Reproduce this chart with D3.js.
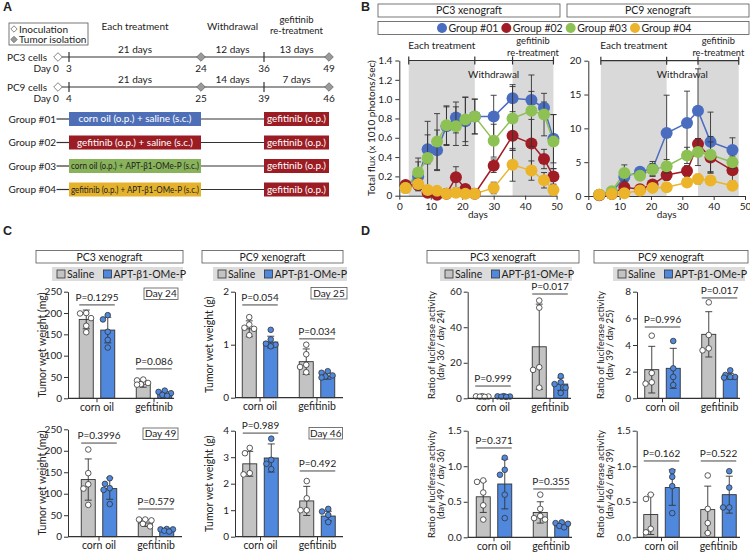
<!DOCTYPE html>
<html><head><meta charset="utf-8">
<script src="https://cdn.jsdelivr.net/npm/d3@7"></script>
<style>body{margin:0;background:#fff} svg{font-family:Lato,'Open Sans',sans-serif}</style>
</head><body><svg id="chart" width="750" height="552"></svg>
<script>
// ================= DATA =================
// Panel A (schedule)
const timelineCells = ["PC3 cells", "PC9 cells"];
const pc3StageDays = [0, 3, 24, 36, 49];
const pc9StageDays = [0, 4, 25, 39, 46];
const pc3Durations = ["21 days", "12 days", "13 days"];
const pc9Durations = ["21 days", "14 days", "7 days"];
const phaseNames = ["Each treatment", "Withdrawal", "gefitinib", "re-treatment"];
const legendA = ["Inoculation", "Tumor isolation"];
const groupNames = ["Group #01", "Group #02", "Group #03", "Group #04"];
const groupTreatments = ["corn oil (o.p.) + saline (s.c.)", "gefitinib (o.p.) + saline (s.c.)",
  "corn oil (o.p.) + APT-β1-OMe-P (s.c.)", "gefitinib (o.p.) + APT-β1-OMe-P (s.c.)"];
const retreatment = "gefitinib (o.p.)";

// Panel B (luciferase flux)
const xenografts = ["PC3 xenograft", "PC9 xenograft"];
const dayTicks = [0, 10, 20, 30, 40, 50];
const pc3Days = [2, 6, 9, 12, 15, 18, 21, 24, 30, 36, 42, 46, 49];
const pc3G1 = [0.10, 0.20, 0.48, 0.47, 0.72, 0.81, 0.77, 0.82, 0.82, 1.01, 0.99, 0.91, 0.59];
const pc3G1Err = [0.05, 0.15, 0.15, 0.21, 0.20, 0.16, 0.25, 0.18, 0.22, 0.14, 0.09, 0.06, 0.25];
const pc3G2 = [0.11, 0.11, 0.03, 0.01, 0.02, 0.19, 0.07, 0.02, 0.31, 0.62, 0.54, 0.38, 0.20];
const pc3G2Err = [0.03, 0.03, 0.02, 0.02, 0.02, 0.11, 0.03, 0.02, 0.07, 0.15, 0.25, 0.10, 0.08];
const pc3G3 = [0.08, 0.24, 0.39, 0.56, 0.73, 0.72, 0.79, 0.82, 0.57, 0.80, 0.88, 0.84, 0.56];
const pc3G3Err = [0.05, 0.15, 0.38, 0.29, 0.20, 0.20, 0.23, 0.18, 0.17, 0.33, 0.37, 0.22, 0.28];
const pc3G4 = [0.08, 0.12, 0.06, 0.05, 0.02, 0.03, 0.02, 0.02, 0.08, 0.32, 0.26, 0.16, 0.06];
const pc3G4Err = [0.03, 0.06, 0.03, 0.02, 0.01, 0.01, 0.01, 0.01, 0.06, 0.17, 0.10, 0.08, 0.05];
const pc9Days = [3.5, 7.5, 11.5, 16.5, 20.5, 25, 31.5, 35, 39, 46];
const pc9G1 = [0.2, 0.5, 2.8, 3.6, 4.0, 9.3, 10.8, 12.6, 8.0, 6.8];
const pc9G1Err = [0.1, 0.3, 0.8, 0.6, 1.1, 5.6, 4.7, 6.2, 4.4, 1.8];
const pc9G2 = [0.1, 0.3, 1.3, 1.0, 1.7, 3.1, 3.7, 7.7, 5.7, 3.8];
const pc9G2Err = [0.05, 0.1, 0.5, 0.3, 0.5, 0.8, 0.8, 0.8, 2.3, 1.6];
const pc9G3 = [0.2, 0.7, 3.4, 3.0, 3.9, 4.4, 6.0, 6.5, 6.1, 5.0];
const pc9G3Err = [0.1, 0.3, 1.2, 0.5, 0.9, 1.0, 1.2, 2.0, 2.7, 0.9];
const pc9G4 = [0.2, 0.3, 0.4, 0.8, 1.2, 1.3, 2.0, 2.5, 2.3, 1.5];
const pc9G4Err = [0.1, 0.1, 0.1, 0.2, 0.3, 0.3, 0.5, 0.7, 0.6, 0.4];
const pc3Brackets = [3, 24, 36, 49];
const pc9Brackets = [4, 25, 35, 48];
const pc3FluxTicks = [0, 0.2, 0.4, 0.6, 0.8, 1.0, 1.2, 1.4];
const pc9FluxTicks = [0, 5, 10, 15, 20];
const fluxTitle = "Total flux (x 1010 photons/sec)";

// Panels C & D (bar + dot plots)
const categories = ["corn oil", "gefitinib"];
const arms = ["Saline", "APT-β1-OMe-P"];
// C: PC3 day 24 (mg)
const c1SalMean = [185, 33], c1AptMean = [160, 12], c1SalSD = [22, 7], c1AptSD = [30, 4];
const c1SalDots = [[200, 199, 188, 170, 155], [44, 42, 36, 33, 32]];
const c1AptDots = [[195, 185, 156, 137, 119], [18, 15, 12, 8, 6]];
const c1P = ["P=0.1295", "P=0.086"];
// C: PC9 day 25 (g)
const c2SalMean = [1.30, 0.68], c2AptMean = [1.05, 0.41], c2SalSD = [0.15, 0.24], c2AptSD = [0.11, 0.06];
const c2SalDots = [[1.52, 1.38, 1.32, 1.30, 1.18], [1.0, 0.82, 0.62, 0.58, 0.48]];
const c2AptDots = [[1.28, 1.10, 1.02, 1.0, 0.97], [0.50, 0.47, 0.42, 0.40, 0.38]];
const c2P = ["P=0.054", "P=0.034"];
// C: PC3 day 49 (mg)
const c3SalMean = [133, 32], c3AptMean = [112, 15], c3SalSD = [48, 8], c3AptSD = [25, 4];
const c3SalDots = [[203, 148, 122, 112, 74], [40, 40, 38, 30, 24]];
const c3AptDots = [[136, 123, 113, 109, 76], [18, 17, 17, 14, 12]];
const c3P = ["P=0.3996", "P=0.579"];
// C: PC9 day 46 (g)
const c4SalMean = [2.75, 1.35], c4AptMean = [2.97, 0.78], c4SalSD = [0.47, 0.55], c4AptSD = [0.53, 0.18];
const c4SalDots = [[3.35, 3.15, 2.40, 2.35], [2.1, 1.45, 1.0, 1.0]];
const c4AptDots = [[3.7, 2.9, 2.75, 2.55], [1.05, 0.95, 0.82, 0.55]];
const c4P = ["P=0.989", "P=0.492"];
// D: PC3 day36/day24
const d1SalMean = [1.0, 29], d1AptMean = [1.0, 8], d1SalSD = [0.3, 24], d1AptSD = [0.3, 3.5];
const d1SalDots = [[1.2, 1.1, 1.0, 0.9, 0.8], [55, 51, 17.5, 16, 6]];
const d1AptDots = [[1.2, 1.1, 1.0, 0.9, 0.8], [12.5, 9, 8, 6, 3]];
const d1P = ["P=0.999", "P=0.017"];
// D: PC9 day39/day25
const d2SalMean = [2.15, 4.8], d2AptMean = [2.25, 1.65], d2SalSD = [1.75, 1.7], d2AptSD = [1.5, 0.22];
const d2SalDots = [[4.7, 1.9, 1.2, 1.1], [7.2, 4.75, 3.75, 3.6]];
const d2AptDots = [[4.3, 2.25, 1.6, 1.0], [2.1, 1.75, 1.6, 1.6, 1.55]];
const d2P = ["P=0.996", "P=0.017"];
// D: PC3 day49/day36
const d3SalMean = [0.57, 0.35], d3AptMean = [0.75, 0.17], d3SalSD = [0.22, 0.15], d3AptSD = [0.35, 0.03];
const d3SalDots = [[0.80, 0.78, 0.63, 0.45, 0.25], [0.60, 0.40, 0.30, 0.27, 0.25]];
const d3AptDots = [[1.12, 0.95, 0.88, 0.60, 0.27], [0.21, 0.20, 0.19, 0.16, 0.14]];
const d3P = ["P=0.371", "P=0.355"];
// D: PC9 day46/day39
const d4SalMean = [0.32, 0.39], d4AptMean = [0.70, 0.60], d4SalSD = [0.28, 0.33], d4AptSD = [0.25, 0.26];
const d4SalDots = [[0.60, 0.54, 0.12, 0.07], [0.87, 0.40, 0.20, 0.06]];
const d4AptDots = [[0.93, 0.85, 0.72, 0.34], [0.93, 0.70, 0.42, 0.42]];
const d4P = ["P=0.162", "P=0.522"];
const dayLabelsC = ["Day 24", "Day 25", "Day 49", "Day 46"];
const ratioLabels = ["(day 36 / day 24)", "(day 39 / day 25)", "(day 49 / day 36)", "(day 46 / day 39)"];

// ================= DRAWING =================
const svg = d3.select('#chart');
const INK = '#222';
const boxColorsA = ['#4e6fb7', '#9b1c23', '#88b35a', '#e5b22d'];
const seriesColors = ['#4a6dbf', '#a01d26', '#8dc153', '#ebb42b'];
const barFill = ['#c3c3c3', '#4f88dd'];

function T(g, x, y, s, o = {}) {
  const t = g.append('text').attr('x', x).attr('y', y).text(s)
    .attr('font-size', o.size || 10).attr('text-anchor', o.anchor || 'start').attr('fill', o.fill || INK);
  if (o.weight) t.attr('font-weight', o.weight);
  if (o.family) t.attr('font-family', o.family);
  if (o.len) t.attr('textLength', o.len).attr('lengthAdjust', 'spacingAndGlyphs');
  if (o.rotate) t.attr('transform', `rotate(-90,${x},${y})`);
  return t;
}
function frame(g, x, y, w, h, fill = '#fff', stroke = '#555') {
  return g.append('rect').attr('x', x).attr('y', y).attr('width', w).attr('height', h)
    .attr('fill', fill).attr('stroke', stroke).attr('stroke-width', 0.8);
}
function L(g, x1, y1, x2, y2, w = 1, c = '#333') {
  return g.append('line').attr('x1', x1).attr('y1', y1).attr('x2', x2).attr('y2', y2)
    .attr('stroke', c).attr('stroke-width', w);
}
function diamond(g, cx, cy, r, fill) {
  g.append('path').attr('d', `M${cx},${cy - r}L${cx + r},${cy}L${cx},${cy + r}L${cx - r},${cy}Z`)
    .attr('fill', fill).attr('stroke', '#666').attr('stroke-width', 0.8);
}
function styleAxis(sel, fs = 10) {
  sel.attr('font-family', null).attr('font-size', fs);
  sel.selectAll('path.domain').attr('stroke', '#333').attr('stroke-width', 1);
  sel.selectAll('.tick line').attr('stroke', '#333');
  sel.selectAll('.tick text').attr('fill', INK);
}
function letter(x, y, s) { T(svg, x, y, s, { size: 12.5, weight: 'bold', family: 'Liberation Sans, Arial' }); }

// ---------- Panel A ----------
const gA = svg.append('g');
letter(3, 11, 'A');
frame(gA, 9, 23, 79, 22);
diamond(gA, 14, 29, 3.2, '#fff'); T(gA, 19, 32.5, legendA[0]);
diamond(gA, 14, 39.5, 3.2, '#9a9a9a'); T(gA, 19, 43, legendA[1]);
const stageX = [58, 69, 201, 264, 329];
const rowY = [57, 87];
const stageSets = [pc3StageDays, pc9StageDays];
const durSets = [pc3Durations, pc9Durations];
timelineCells.forEach((cell, i) => {
  const days = stageSets[i];
  const x = d3.scaleLinear().domain(days).range(stageX);
  const y = rowY[i];
  L(gA, x(days[0]), y, x(days[4]), y, 1.2);
  [1, 3].forEach(k => L(gA, x(days[k]), y - 5, x(days[k]), y + 5, 1.2));
  diamond(gA, x(days[0]), y, 4.3, '#fff');
  diamond(gA, x(days[2]), y, 4.3, '#9a9a9a');
  diamond(gA, x(days[4]), y, 4.3, '#9a9a9a');
  T(gA, 47, y + 3.5, cell, { anchor: 'end' });
  T(gA, 51, y + 14.5, 'Day', { anchor: 'end' });
  days.forEach((d, k) => T(gA, x(d) - (k === 0 ? 2 : 0), y + 14.5, d, { anchor: 'middle' }));
  durSets[i].forEach((s, k) => T(gA, (x(days[k + 1]) + x(days[k + 2])) / 2, y - 4, s, { anchor: 'middle' }));
});
{
  const xs = d3.scaleLinear().domain(pc3StageDays).range(stageX);
  const mid = (a, b) => (xs(pc3StageDays[a]) + xs(pc3StageDays[b])) / 2;
  T(gA, mid(1, 2), 30, phaseNames[0], { anchor: 'middle' });
  T(gA, mid(2, 3), 30, phaseNames[1], { anchor: 'middle' });
  T(gA, mid(3, 4), 22.5, phaseNames[2], { anchor: 'middle', size: 9.5 });
  T(gA, mid(3, 4), 34, phaseNames[3], { anchor: 'middle', size: 9.5 });
}
const groupY = [119, 142.5, 166, 189.5];
const treatLen = [113, 116, 128, 128];
groupNames.forEach((name, i) => {
  const y = groupY[i];
  T(gA, 56, y + 3.5, name, { anchor: 'end' });
  L(gA, 56.5, y, stageX[1], y, 1.2);
  L(gA, stageX[2], y, stageX[3], y, 1.2);
  gA.append('rect').attr('x', stageX[1]).attr('y', y - 7).attr('width', stageX[2] - stageX[1]).attr('height', 14).attr('fill', boxColorsA[i]);
  T(gA, (stageX[1] + stageX[2]) / 2, y + 3.2, groupTreatments[i], { anchor: 'middle', size: 9, fill: i < 2 ? '#fff' : '#222', len: treatLen[i] });
  gA.append('rect').attr('x', stageX[3]).attr('y', y - 7).attr('width', stageX[4] - stageX[3]).attr('height', 14).attr('fill', boxColorsA[1]);
  T(gA, (stageX[3] + stageX[4]) / 2, y + 3.2, retreatment, { anchor: 'middle', size: 9, fill: '#fff', len: 59 });
});

// ---------- Panel B ----------
const gB = svg.append('g');
letter(361, 11, 'B');
frame(gB, 378, 4, 182, 13); T(gB, 469, 14.3, xenografts[0], { anchor: 'middle', size: 10.5 });
frame(gB, 567, 4, 182, 13); T(gB, 658, 14.3, xenografts[1], { anchor: 'middle', size: 10.5 });
frame(gB, 378, 21.5, 371, 13);
const legX = d3.scalePoint().domain(groupNames).range([442, 635]);
groupNames.forEach((n, i) => {
  gB.append('circle').attr('cx', legX(n)).attr('cy', 28).attr('r', 5).attr('fill', seriesColors[i]);
  T(gB, legX(n) + 6.5, 32, n, { size: 10.5 });
});

function fluxPanel(cfg) {
  const g = gB.append('g');
  const x = d3.scaleLinear().domain([0, 50]).range([cfg.x0, cfg.x1]);
  const y = d3.scaleLinear().domain([0, cfg.yMax]).range([cfg.yBot, cfg.yTop]);
  const b = cfg.brackets;
  [[b[0], b[1]], [b[2], b[3]]].forEach(([a, c]) =>
    g.append('rect').attr('x', x(a)).attr('y', y(cfg.yMax)).attr('width', x(c) - x(a))
      .attr('height', y(0) - y(cfg.yMax)).attr('fill', '#d9d9d9'));
  const ya = g.append('g').attr('transform', `translate(${cfg.x0},0)`)
    .call(d3.axisLeft(y).tickValues(cfg.yTicks).tickFormat(cfg.fmt).tickSize(4).tickSizeOuter(0).tickPadding(3));
  styleAxis(ya);
  const xa = g.append('g').attr('transform', `translate(0,${cfg.yBot})`)
    .call(d3.axisBottom(x).tickValues(dayTicks).tickSize(4).tickSizeOuter(0).tickPadding(3));
  styleAxis(xa);
  const top = y(cfg.yMax);
  L(g, x(b[0]), top, x(b[3]), top, 1.2);
  b.forEach(d => L(g, x(d), top - 4, x(d), top + 4, 1.2));
  T(g, (x(b[0]) + x(b[1])) / 2, top - 12, phaseNames[0], { anchor: 'middle' });
  T(g, (x(b[1]) + x(b[2])) / 2, top + 17, phaseNames[1], { anchor: 'middle' });
  T(g, (x(b[2]) + x(b[3])) / 2, cfg.yTop - 16.3 + (60.7 - cfg.yTop) * 0 , phaseNames[2], { anchor: 'middle', size: 9.3 });
  T(g, (x(b[2]) + x(b[3])) / 2, cfg.yTop - 4.8, phaseNames[3], { anchor: 'middle', size: 9.3 });
  T(g, (cfg.x0 + cfg.x1) / 2, cfg.yBot + 22, 'days', { anchor: 'middle' });
  if (cfg.title) T(g, 375.5, (cfg.yTop + cfg.yBot) / 2, cfg.title, { anchor: 'middle', rotate: true, size: 10 });
  const line = d3.line().x((d, i) => x(cfg.days[i])).y(d => y(d));
  cfg.series.forEach((s, k) => {
    g.append('path').datum(s.vals).attr('d', line).attr('fill', 'none').attr('stroke', seriesColors[k]).attr('stroke-width', 1.5);
  });
  cfg.series.forEach((s, k) => {
    s.vals.forEach((v, i) => {
      const cx = x(cfg.days[i]);
      const e = s.errs[i];
      L(g, cx, y(v - e), cx, y(v + e), 0.9, '#333');
      L(g, cx - 3, y(v + e), cx + 3, y(v + e), 0.9, '#333');
      L(g, cx - 3, y(v - e), cx + 3, y(v - e), 0.9, '#333');
    });
    g.selectAll(null).data(s.vals).enter().append('circle')
      .attr('cx', (d, i) => x(cfg.days[i])).attr('cy', d => y(d)).attr('r', 6).attr('fill', seriesColors[k]);
  });
}
fluxPanel({ x0: 399.3, x1: 556.6, yTop: 60.5, yBot: 195.7, yMax: 1.4, yTicks: pc3FluxTicks,
  fmt: d => d === 0 ? '0' : d3.format('.1f')(d), days: pc3Days, brackets: pc3Brackets, title: fluxTitle,
  series: [{ vals: pc3G1, errs: pc3G1Err }, { vals: pc3G2, errs: pc3G2Err }, { vals: pc3G3, errs: pc3G3Err }, { vals: pc3G4, errs: pc3G4Err }] });
fluxPanel({ x0: 588.3, x1: 745, yTop: 60.7, yBot: 196, yMax: 20, yTicks: pc9FluxTicks,
  fmt: d3.format('d'), days: pc9Days, brackets: pc9Brackets, title: null,
  series: [{ vals: pc9G1, errs: pc9G1Err }, { vals: pc9G2, errs: pc9G2Err }, { vals: pc9G3, errs: pc9G3Err }, { vals: pc9G4, errs: pc9G4Err }] });

// ---------- Panels C & D ----------
const gCD = svg.append('g');
letter(3, 235, 'C');
letter(361, 235, 'D');
const headerBoxes = [[36, 147], [202, 141], [427, 152], [594, 154]];
headerBoxes.forEach(([x, w], i) => {
  frame(gCD, x, 250.5, w, 12.5);
  T(gCD, x + w / 2, 260.5, xenografts[i % 2], { anchor: 'middle', size: 10.5 });
});
const legendBoxes = [[52, 131], [213, 134], [440, 132], [613, 132]];
legendBoxes.forEach(([x, w]) => {
  gCD.append('rect').attr('x', x).attr('y', 267).attr('width', w).attr('height', 14).attr('fill', '#dcdcdc');
  gCD.append('rect').attr('x', x + 5).attr('y', 270).attr('width', 8).attr('height', 8).attr('fill', barFill[0]).attr('stroke', '#333').attr('stroke-width', 0.8);
  T(gCD, x + 15, 278, arms[0], { size: 10.5 });
  gCD.append('rect').attr('x', x + 51.5).attr('y', 270).attr('width', 8).attr('height', 8).attr('fill', barFill[1]).attr('stroke', '#333').attr('stroke-width', 0.8);
  T(gCD, x + 61.5, 278, arms[1], { size: 10.5 });
});

function swarm(vals, cx, y, r) {
  const placed = [];
  const cands = [0, -4.8, 4.8, -2.4, 2.4, -6.2, 6.2];
  return vals.map(v => {
    const py = y(v);
    let best = null, bestD = -1;
    for (const dx of cands) {
      const md = placed.length ? d3.min(placed, p => Math.hypot(p[0] - (cx + dx), p[1] - py)) : Infinity;
      if (md >= 2 * r) { best = dx; break; }
      if (md > bestD) { bestD = md; best = dx; }
    }
    placed.push([cx + best, py]);
    return [cx + best, py];
  });
}

function barPanel(cfg) {
  const g = gCD.append('g');
  const y = d3.scaleLinear().domain([0, cfg.yMax]).range([cfg.yBot, cfg.yTop]);
  const xc = d3.scalePoint().domain(categories).range([cfg.c0, cfg.c0 + 57]);
  const xo = d3.scalePoint().domain(arms).range([-10.75, 10.75]);
  const bw = 14;
  const ticks = d3.range(0, cfg.yMax + 1e-9, cfg.tickStep);
  const ya = g.append('g').attr('transform', `translate(${cfg.axisX},0)`)
    .call(d3.axisLeft(y).tickValues(ticks).tickFormat(cfg.fmt).tickSize(4).tickSizeOuter(0).tickPadding(2));
  styleAxis(ya);
  categories.forEach((c, ci) => {
    arms.forEach((a, ai) => {
      const cx = xc(c) + xo(a);
      const m = cfg.mean[ai][ci], sd = cfg.sd[ai][ci];
      g.append('rect').attr('x', cx - bw / 2).attr('y', y(m)).attr('width', bw).attr('height', y(0) - y(m))
        .attr('fill', barFill[ai]).attr('stroke', '#333').attr('stroke-width', 0.9);
      L(g, cx, y(Math.max(0, m - sd)), cx, y(m + sd), 0.9, '#333');
      L(g, cx - 3.5, y(m + sd), cx + 3.5, y(m + sd), 0.9, '#333');
      if (m - sd > 0) L(g, cx - 3.5, y(m - sd), cx + 3.5, y(m - sd), 0.9, '#333');
      swarm(cfg.dots[ai][ci], cx, y, 2.8).forEach(([px, py]) =>
        g.append('circle').attr('cx', px).attr('cy', py).attr('r', 2.8)
          .attr('fill', ai === 0 ? '#fff' : barFill[1]).attr('stroke', '#333').attr('stroke-width', 0.8));
    });
    const x1 = xc(c) + xo(arms[0]) - bw / 2, x2 = xc(c) + xo(arms[1]) + bw / 2;
    const py = y(cfg.pLevel[ci]);
    L(g, x1, py, x2, py, 1, '#444');
    T(g, (x1 + x2) / 2, py - 4, cfg.p[ci], { anchor: 'middle', size: 10 });
    L(g, xc(c), cfg.yBot, xc(c), cfg.yBot + 4, 1);
    T(g, xc(c), cfg.yBot + 12.5, c, { anchor: 'middle', size: 10.5 });
  });
  L(g, cfg.axisX, cfg.yBot, cfg.axisEnd, cfg.yBot, 1.2);
  if (cfg.dayBox) {
    const [bx, by, bwid, lab] = cfg.dayBox;
    frame(g, bx, by, bwid, 11.5);
    T(g, bx + bwid / 2, by + 9.3, lab, { anchor: 'middle', size: 10 });
  }
  const cy = (cfg.yTop + cfg.yBot) / 2;
  cfg.titles.forEach((t, i) => T(g, cfg.titleX[i], cy, t, { anchor: 'middle', rotate: true, size: cfg.titleSize }));
}
const fmtInt = d3.format('d'), fmt1 = d3.format('.1f');
barPanel({ axisX: 68, axisEnd: 174, c0: 97, yTop: 291.7, yBot: 398.3, yMax: 250, tickStep: 50, fmt: fmtInt,
  mean: [c1SalMean, c1AptMean], sd: [c1SalSD, c1AptSD], dots: [c1SalDots, c1AptDots], p: c1P, pLevel: [219, 69],
  dayBox: [144, 288, 34, dayLabelsC[0]], titles: ["Tumor wet weight (mg)"], titleX: [45.5], titleSize: 10.5 });
barPanel({ axisX: 235, axisEnd: 343, c0: 260, yTop: 291.7, yBot: 397.7, yMax: 2, tickStep: 1, fmt: fmtInt,
  mean: [c2SalMean, c2AptMean], sd: [c2SalSD, c2AptSD], dots: [c2SalDots, c2AptDots], p: c2P, pLevel: [1.75, 1.11],
  dayBox: [311, 287.5, 36, dayLabelsC[1]], titles: ["Tumor wet weight (g)"], titleX: [213.5], titleSize: 10.5 });
barPanel({ axisX: 68, axisEnd: 182, c0: 99, yTop: 429.3, yBot: 536.7, yMax: 250, tickStep: 50, fmt: fmtInt,
  mean: [c3SalMean, c3AptMean], sd: [c3SalSD, c3AptSD], dots: [c3SalDots, c3AptDots], p: c3P, pLevel: [218, 64.5],
  dayBox: [143, 428, 35, dayLabelsC[2]], titles: ["Tumor wet weight (mg)"], titleX: [45.5], titleSize: 10.5 });
barPanel({ axisX: 235, axisEnd: 343, c0: 260.5, yTop: 430.7, yBot: 536.7, yMax: 4, tickStep: 1, fmt: fmtInt,
  mean: [c4SalMean, c4AptMean], sd: [c4SalSD, c4AptSD], dots: [c4SalDots, c4AptDots], p: c4P, pLevel: [3.91, 2.48],
  dayBox: [309, 427.5, 33.5, dayLabelsC[3]], titles: ["Tumor wet weight (g)"], titleX: [213.5], titleSize: 10.5 });
barPanel({ axisX: 467.7, axisEnd: 571, c0: 493, yTop: 291.7, yBot: 398.3, yMax: 60, tickStep: 20, fmt: fmtInt,
  mean: [d1SalMean, d1AptMean], sd: [d1SalSD, d1AptSD], dots: [d1SalDots, d1AptDots], p: d1P, pLevel: [6.9, 58.7],
  dayBox: null, titles: ["Ratio of luciferase activity", ratioLabels[0]], titleX: [434.5, 444], titleSize: 9.5 });
barPanel({ axisX: 637, axisEnd: 740, c0: 662.5, yTop: 291.7, yBot: 398.3, yMax: 8, tickStep: 2, fmt: fmtInt,
  mean: [d2SalMean, d2AptMean], sd: [d2SalSD, d2AptSD], dots: [d2SalDots, d2AptDots], p: d2P, pLevel: [5.35, 7.53],
  dayBox: null, titles: ["Ratio of luciferase activity", ratioLabels[1]], titleX: [603.5, 613], titleSize: 9.5 });
barPanel({ axisX: 467.7, axisEnd: 572, c0: 494, yTop: 430.7, yBot: 537.3, yMax: 1.5, tickStep: 0.5, fmt: fmt1,
  mean: [d3SalMean, d3AptMean], sd: [d3SalSD, d3AptSD], dots: [d3SalDots, d3AptDots], p: d3P, pLevel: [1.257, 0.68],
  dayBox: null, titles: ["Ratio of luciferase activity", ratioLabels[2]], titleX: [434.5, 444], titleSize: 9.5 });
barPanel({ axisX: 636.7, axisEnd: 740, c0: 661.5, yTop: 430.7, yBot: 537.3, yMax: 1.5, tickStep: 0.5, fmt: fmt1,
  mean: [d4SalMean, d4AptMean], sd: [d4SalSD, d4AptSD], dots: [d4SalDots, d4AptDots], p: d4P, pLevel: [1.074, 1.074],
  dayBox: null, titles: ["Ratio of luciferase activity", ratioLabels[3]], titleX: [603.5, 613], titleSize: 9.5 });
</script></body></html>
